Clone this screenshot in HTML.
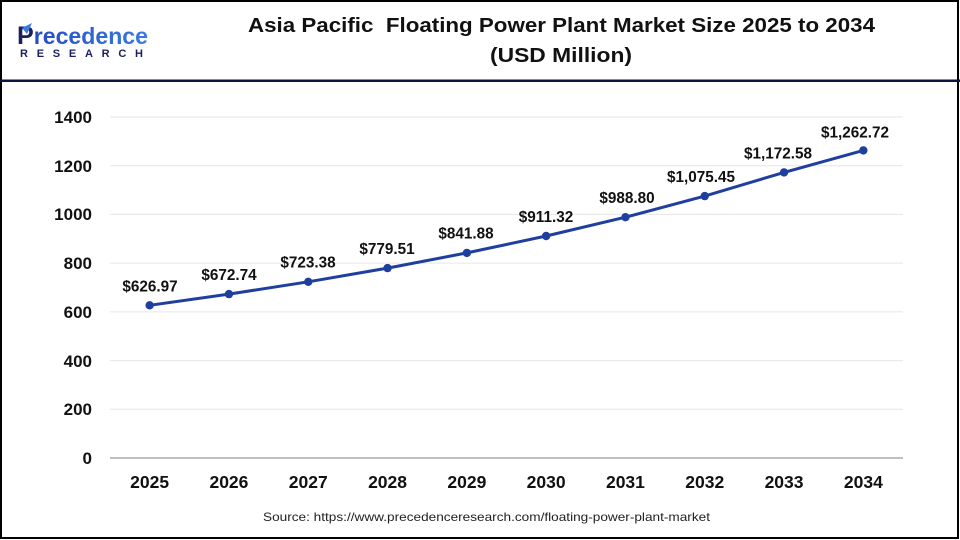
<!DOCTYPE html>
<html>
<head>
<meta charset="utf-8">
<style>
  html, body { margin: 0; padding: 0; background: #fff; }
  svg { display: block; }
  text { font-family: "Liberation Sans", Arial, sans-serif; }
</style>
</head>
<body>
<svg width="960" height="540" viewBox="0 0 960 540" xmlns="http://www.w3.org/2000/svg">
  <rect x="0" y="0" width="960" height="540" fill="#ffffff"/>
  <!-- outer border -->
  <rect x="1" y="1" width="957" height="537" fill="none" stroke="#000" stroke-width="2"/>
  <!-- header divider -->
  <rect x="0" y="79.5" width="960" height="2.5" fill="#0d1240"/>

  <!-- logo -->
  <defs>
    <linearGradient id="lg" x1="0" y1="0" x2="1" y2="0">
      <stop offset="0" stop-color="#2346b8"/>
      <stop offset="1" stop-color="#3a7be0"/>
    </linearGradient>
  </defs>
  <text x="17" y="44" font-size="23" font-weight="bold" textLength="131" lengthAdjust="spacingAndGlyphs" fill="url(#lg)"><tspan fill="#1b1f5e" font-size="25">P</tspan>recedence</text>
  <path d="M22 28 L32 23 L27 34 Z" fill="#3a7be0"/>
  <text x="20" y="57" font-size="11" font-weight="bold" textLength="123" lengthAdjust="spacing" fill="#1b1f5e">RESEARCH</text>

  <!-- title -->
  <text x="248" y="32" font-size="20" font-weight="bold" fill="#111" textLength="627" lengthAdjust="spacingAndGlyphs" xml:space="preserve">Asia Pacific  Floating Power Plant Market Size 2025 to 2034</text>
  <text x="561" y="62" font-size="20" font-weight="bold" fill="#111" text-anchor="middle" textLength="142" lengthAdjust="spacingAndGlyphs">(USD Million)</text>

  <!-- gridlines -->
  <g stroke="#e6e6e6" stroke-width="1">
    <line x1="110" y1="117" x2="903" y2="117"/>
    <line x1="110" y1="165.7" x2="903" y2="165.7"/>
    <line x1="110" y1="214.4" x2="903" y2="214.4"/>
    <line x1="110" y1="263.1" x2="903" y2="263.1"/>
    <line x1="110" y1="311.9" x2="903" y2="311.9"/>
    <line x1="110" y1="360.6" x2="903" y2="360.6"/>
    <line x1="110" y1="409.3" x2="903" y2="409.3"/>
  </g>
  <line x1="110" y1="458" x2="903" y2="458" stroke="#bfbfbf" stroke-width="2"/>

  <!-- y tick labels -->
  <g font-size="17" font-weight="bold" fill="#111" text-anchor="end">
    <text x="92" y="123">1400</text>
    <text x="92" y="172">1200</text>
    <text x="92" y="220">1000</text>
    <text x="92" y="269">800</text>
    <text x="92" y="318">600</text>
    <text x="92" y="367">400</text>
    <text x="92" y="415">200</text>
    <text x="92" y="464">0</text>
  </g>

  <!-- x tick labels -->
  <g font-size="17.5" font-weight="bold" fill="#111" text-anchor="middle">
    <text x="149.65" y="488">2025</text>
    <text x="228.95" y="488">2026</text>
    <text x="308.25" y="488">2027</text>
    <text x="387.55" y="488">2028</text>
    <text x="466.85" y="488">2029</text>
    <text x="546.15" y="488">2030</text>
    <text x="625.45" y="488">2031</text>
    <text x="704.75" y="488">2032</text>
    <text x="784.05" y="488">2033</text>
    <text x="863.35" y="488">2034</text>
  </g>

  <!-- series -->
  <polyline fill="none" stroke="#1f3f9f" stroke-width="3" stroke-linejoin="round"
    points="149.65,305.3 228.95,294.1 308.25,281.8 387.55,268.1 466.85,252.9 546.15,236.0 625.45,217.2 704.75,196.1 784.05,172.4 863.35,150.4"/>
  <g fill="#1f3f9f">
    <circle cx="149.65" cy="305.3" r="4.2"/>
    <circle cx="228.95" cy="294.1" r="4.2"/>
    <circle cx="308.25" cy="281.8" r="4.2"/>
    <circle cx="387.55" cy="268.1" r="4.2"/>
    <circle cx="466.85" cy="252.9" r="4.2"/>
    <circle cx="546.15" cy="236.0" r="4.2"/>
    <circle cx="625.45" cy="217.2" r="4.2"/>
    <circle cx="704.75" cy="196.1" r="4.2"/>
    <circle cx="784.05" cy="172.4" r="4.2"/>
    <circle cx="863.35" cy="150.4" r="4.2"/>
  </g>

  <!-- data labels -->
  <g font-size="15.3" font-weight="bold" fill="#111" text-anchor="middle">
    <text x="150" y="291.5">$626.97</text>
    <text x="229" y="280">$672.74</text>
    <text x="308" y="267.5">$723.38</text>
    <text x="387" y="254">$779.51</text>
    <text x="466" y="238.5">$841.88</text>
    <text x="546" y="222">$911.32</text>
    <text x="627" y="203">$988.80</text>
    <text x="701" y="182">$1,075.45</text>
    <text x="778" y="158.5">$1,172.58</text>
    <text x="855" y="137.5">$1,262.72</text>
  </g>

  <!-- source -->
  <text x="263" y="521" font-size="12" fill="#222" textLength="447" lengthAdjust="spacingAndGlyphs">Source: https://www.precedenceresearch.com/floating-power-plant-market</text>
</svg>
</body>
</html>
